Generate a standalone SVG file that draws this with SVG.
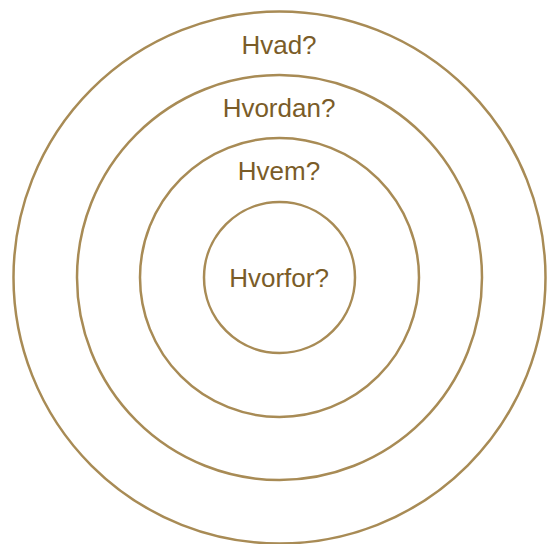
<svg xmlns="http://www.w3.org/2000/svg" width="547" height="544" viewBox="0 0 547 544">
<style>
.ring{fill:none;stroke:#A88B55;stroke-width:2.5}
.lbl{font-family:"Liberation Sans",Arial,sans-serif;font-size:26px;fill:#7A5C28;text-anchor:middle}
</style>
<rect width="547" height="544" fill="#fff"/>
<g id="ring-hvad"><circle class="ring" cx="279.5" cy="277.5" r="266"/><text class="lbl" x="279" y="54">Hvad?</text></g>
<g id="ring-hvordan"><circle class="ring" cx="279.5" cy="277.5" r="202.5"/><text class="lbl" x="279" y="116.5">Hvordan?</text></g>
<g id="ring-hvem"><circle class="ring" cx="279.5" cy="277.5" r="139.5"/><text class="lbl" x="279" y="180">Hvem?</text></g>
<g id="ring-hvorfor"><circle class="ring" cx="279.5" cy="277.5" r="75.5"/><text class="lbl" x="279" y="286.5">Hvorfor?</text></g>
<g id="connectors"/>
</svg>
